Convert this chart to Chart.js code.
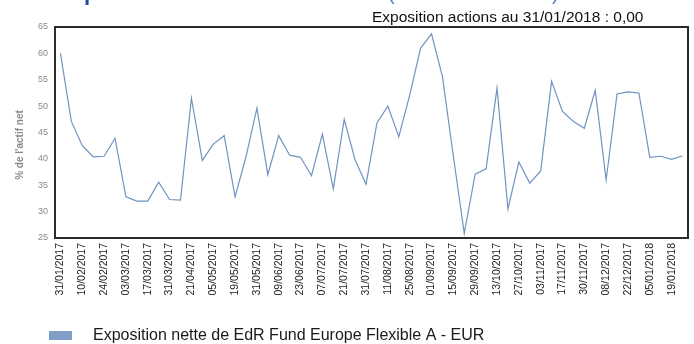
<!DOCTYPE html>
<html>
<head>
<meta charset="utf-8">
<script src="https://cdn.jsdelivr.net/npm/chart.js@4"></script>
<style>
  html, body { margin: 0; padding: 0; background: #fff; }
</style>
</head>
<body>
<canvas id="expoChart" width="694" height="344"></canvas>
<script>
// weekly points, one date label every second point
const categories = [
  '31/01/2017', '', '10/02/2017', '', '24/02/2017', '', '03/03/2017', '', '17/03/2017', '',
  '31/03/2017', '', '21/04/2017', '', '05/05/2017', '', '19/05/2017', '', '31/05/2017', '',
  '09/06/2017', '', '23/06/2017', '', '07/07/2017', '', '21/07/2017', '', '31/07/2017', '',
  '11/08/2017', '', '25/08/2017', '', '01/09/2017', '', '15/09/2017', '', '29/09/2017', '',
  '13/10/2017', '', '27/10/2017', '', '03/11/2017', '', '17/11/2017', '', '30/11/2017', '',
  '08/12/2017', '', '22/12/2017', '', '05/01/2018', '', '19/01/2018', '31/01/2018'
];

const netExposure = [
  60.0, 47.1, 42.5, 40.4, 40.5, 43.9, 32.8, 32.0, 32.0, 35.6,
  32.3, 32.2, 51.5, 39.7, 42.8, 44.4, 32.8, 40.4, 49.6, 37.0,
  44.4, 40.7, 40.3, 36.8, 44.7, 34.3, 47.5, 39.8, 35.2, 46.8,
  50.0, 44.2, 52.1, 61.0, 63.7, 55.6, 40.5, 25.9, 37.1, 38.1,
  53.4, 30.5, 39.4, 35.4, 37.7, 54.7, 49.0, 47.1, 45.8, 53.0,
  36.0, 52.3, 52.7, 52.5, 40.3, 40.5, 39.9, 40.6
];

const yTicks = { min: 25, max: 65, step: 5 };

const seriesName = 'Exposition nette de EdR Fund Europe Flexible A - EUR';
const yAxisTitle = "% de l'actif net";
const headerText = 'Exposition actions au 31/01/2018 : 0,00';
const titleText = 'Exposition nette aux actions';
const titleNote = "(en % de l'actif net)";

const lineColor = '#6f93c2';
const legendColor = '#7f9fc6';
const fontFamily = '"Liberation Sans", Arial, sans-serif';

// frame around the plot, axis title, header line and the legend row
const decorPlugin = {
  id: 'decor',
  afterDraw(chart) {
    const { ctx, chartArea: a } = chart;
    ctx.save();

    ctx.strokeStyle = '#2b2b2b';
    ctx.lineWidth = 2;
    ctx.strokeRect(a.left, a.top, a.right - a.left, a.bottom - a.top);

    // y axis title sits a little below the plot's middle
    ctx.save();
    ctx.translate(20, 145);
    ctx.rotate(-Math.PI / 2);
    ctx.fillStyle = '#8a8a8a';
    ctx.font = 'bold 10px ' + fontFamily;
    ctx.textAlign = 'center';
    ctx.textBaseline = 'middle';
    ctx.fillText(yAxisTitle, 0, 0);
    ctx.restore();

    // page title, mostly above the canvas edge
    ctx.fillStyle = '#1f4ea3';
    ctx.textBaseline = 'alphabetic';
    ctx.font = 'bold 22px ' + fontFamily;
    ctx.fillText(titleText, 57, 0);
    ctx.font = '20px ' + fontFamily;
    ctx.fillStyle = '#5b7fc0';
    ctx.fillText(titleNote, 388, 0);

    ctx.fillStyle = '#111';
    ctx.font = '15.5px ' + fontFamily;
    ctx.fillText(headerText, 372, 22);

    const ds = chart.data.datasets[0];
    ctx.fillStyle = legendColor;
    ctx.fillRect(49, 331, 23, 9);
    ctx.fillStyle = '#1a1a1a';
    ctx.font = '16px ' + fontFamily;
    ctx.textBaseline = 'middle';
    ctx.fillText(ds.label, 93, 336);

    ctx.restore();
  }
};

const ctx_expo = document.getElementById('expoChart').getContext('2d');
const expoChart = new Chart(ctx_expo, {
  type: 'line',
  data: {
    labels: categories,
    datasets: [{
      label: seriesName,
      data: netExposure,
      borderColor: lineColor,
      backgroundColor: legendColor,
      borderWidth: 1.2,
      pointRadius: 0,
      tension: 0,
      fill: false
    }]
  },
  options: {
    responsive: false,
    maintainAspectRatio: false,
    animation: false,
    layout: { padding: { top: 27, right: 6, left: 0, bottom: 0 } },
    scales: {
      x: {
        type: 'category',
        offset: true,
        grid: { display: false, drawTicks: false },
        border: { display: false },
        ticks: {
          autoSkip: false,
          minRotation: 90,
          maxRotation: 90,
          padding: 5,
          color: '#222',
          font: { family: fontFamily, size: 10.5 },
          callback: function (value, index) {
            return index % 2 === 0 ? this.getLabelForValue(value) : '';
          }
        },
        afterFit(scale) {
          scale.height = 106;
          scale.paddingLeft = 0;
          scale.paddingRight = 0;
        }
      },
      y: {
        min: yTicks.min,
        max: yTicks.max,
        grid: { display: false, drawTicks: false },
        border: { display: false },
        ticks: {
          stepSize: yTicks.step,
          padding: 7,
          color: '#8a8a8a',
          font: { family: fontFamily, size: 9 }
        },
        title: { display: false },
        afterFit(scale) {
          scale.width = 55;
          scale.paddingTop = 0;
          scale.paddingBottom = 0;
        }
      }
    },
    plugins: {
      legend: { display: false },
      tooltip: { enabled: true }
    }
  },
  plugins: [decorPlugin]
});
</script>
</body>
</html>
